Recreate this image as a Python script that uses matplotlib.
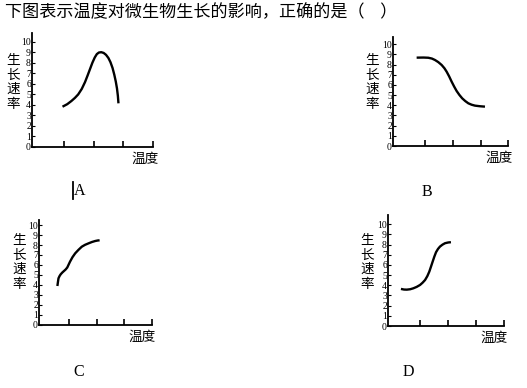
import matplotlib.pyplot as plt
from matplotlib.lines import Line2D

plt.rcParams['font.family'] = ['Noto Sans CJK SC', 'DejaVu Sans']

W, H = 527, 388

title = '下图表示温度对微生物生长的影响，正确的是（    ）'
y_label = '生长速率'
x_label = '温度'
letters = ['A', 'B', 'C', 'D']
y_ticks = list(range(0, 11))
x_ticks = [1, 2, 3, 4]

# curves (x in tick units, y in rate units)
a_x = [0.94, 1.10, 1.24, 1.36, 1.47, 1.59, 1.70, 1.79, 1.87, 1.95, 2.03, 2.10, 2.17,
       2.25, 2.33, 2.41, 2.49, 2.56, 2.63, 2.69, 2.74, 2.78, 2.81, 2.83]
a_y = [3.81, 4.05, 4.35, 4.65, 4.98, 5.50, 6.15, 6.80, 7.40, 8.00, 8.50, 8.82, 8.97,
       9.00, 8.93, 8.75, 8.45, 8.05, 7.50, 6.85, 6.20, 5.55, 4.85, 4.13]

b_x = [0.70, 0.95, 1.12, 1.25, 1.36, 1.48, 1.60, 1.70, 1.78, 1.87, 1.96, 2.05, 2.14,
       2.24, 2.34, 2.45, 2.56, 2.68, 2.80, 2.98, 3.16]
b_y = [8.69, 8.70, 8.68, 8.60, 8.46, 8.25, 7.97, 7.65, 7.31, 6.85, 6.33, 5.85, 5.41,
       5.02, 4.69, 4.42, 4.20, 4.06, 3.97, 3.91, 3.87]

c_x = [0.56, 0.58, 0.60, 0.64, 0.68, 0.74, 0.80, 0.86, 0.92, 1.02, 1.11, 1.21, 1.33,
       1.45, 1.57, 1.70, 1.82, 1.94, 2.03, 2.10]
c_y = [3.90, 4.30, 4.67, 4.90, 5.07, 5.25, 5.40, 5.55, 5.75, 6.33, 6.78, 7.17, 7.52,
       7.83, 8.02, 8.17, 8.30, 8.40, 8.45, 8.47]

d_x = [0.32, 0.43, 0.53, 0.65, 0.76, 0.88, 1.00, 1.09, 1.18, 1.26, 1.33, 1.39, 1.45,
       1.51, 1.57, 1.64, 1.71, 1.80, 1.89, 2.00, 2.10]
d_y = [3.64, 3.58, 3.57, 3.61, 3.70, 3.84, 4.03, 4.25, 4.52, 4.90, 5.34, 5.83, 6.33,
       6.82, 7.25, 7.57, 7.80, 7.99, 8.13, 8.20, 8.23]

curves = [(a_x, a_y), (b_x, b_y), (c_x, c_y), (d_x, d_y)]

# panel boxes in pixels: left, top, right, bottom, xmin, ymax
boxes = [
    (32.3, 33.3, 153.1, 146.7, -0.08, 10.8),
    (393.3, 36.7, 508.3, 146.0, -0.14, 10.75),
    (39.3, 220.0, 151.7, 325.0, -0.10, 10.5),
    (388.3, 215.0, 504.3, 326.0, -0.13, 10.9),
]
ylab_pos = [(13, 82), (372.5, 82), (19, 262), (367, 262)]
xlab_pos = [(145, 159), (499, 158), (142.5, 337), (494, 338)]
letter_pos = [(80, 191), (427, 192), (79, 372), (408, 372)]

fig = plt.figure(figsize=(W / 100, H / 100), dpi=100)

def fx(px):
    return px / W

def fy(py):
    return 1 - py / H

for i in range(4):
    L, T, R, B, xmin, ymax = boxes[i]
    ax = fig.add_axes([fx(L), fy(B), (R - L) / W, (B - T) / H])
    ax.plot(curves[i][0], curves[i][1], color='black', lw=1.7,
            solid_capstyle='butt', solid_joinstyle='round')
    ax.set_xlim(xmin, 4)
    ax.set_ylim(0, ymax)
    ax.spines['top'].set_visible(False)
    ax.spines['right'].set_visible(False)
    ax.spines['left'].set_linewidth(1.3)
    ax.spines['bottom'].set_linewidth(1.3)
    ax.set_xticks(x_ticks)
    ax.set_xticklabels([])
    ax.set_yticks(y_ticks)
    ax.set_yticklabels([str(v) for v in y_ticks], family='Liberation Serif', fontsize=7)
    ax.tick_params(axis='x', direction='in', length=4, width=1.2)
    ax.tick_params(axis='y', direction='in', length=2.5, width=0.8, pad=1)
    ax.patch.set_visible(False)

    fig.text(fx(ylab_pos[i][0]), fy(ylab_pos[i][1]), '\n'.join(y_label),
             ha='center', va='center', fontsize=9.8, linespacing=1.05)
    fig.text(fx(xlab_pos[i][0]), fy(xlab_pos[i][1]), x_label,
             ha='center', va='center', fontsize=9.8)
    fig.text(fx(letter_pos[i][0]), fy(letter_pos[i][1]), letters[i],
             ha='center', va='center', fontsize=11.5, family='Liberation Serif')

# the stray cursor bar beside A
fig.add_artist(Line2D([fx(72.8), fx(72.8)], [fy(182), fy(199)], color='black', lw=1.3))

fig.text(fx(5), fy(12), title, ha='left', va='center', fontsize=12.3)

fig.savefig('out.png', dpi=100)
